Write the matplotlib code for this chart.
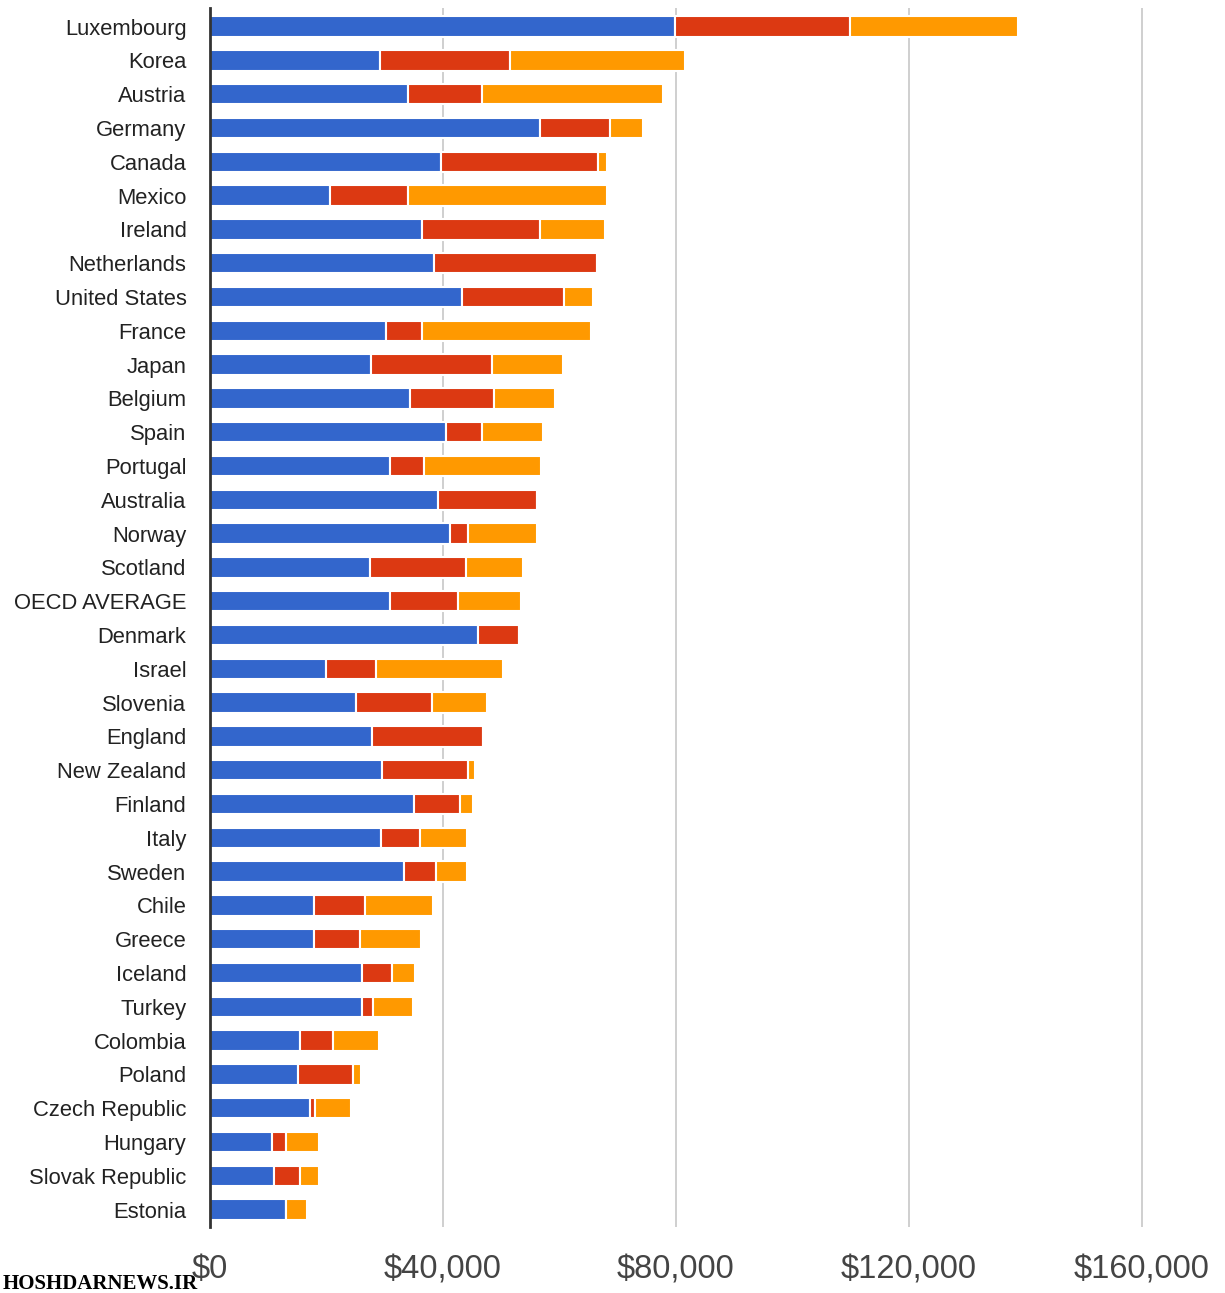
import matplotlib.pyplot as plt
import numpy as np

countries = ['Luxembourg', 'Korea', 'Austria', 'Germany', 'Canada', 'Mexico',
             'Ireland', 'Netherlands', 'United States', 'France', 'Japan',
             'Belgium', 'Spain', 'Portugal', 'Australia', 'Norway', 'Scotland',
             'OECD AVERAGE', 'Denmark', 'Israel', 'Slovenia', 'England',
             'New Zealand', 'Finland', 'Italy', 'Sweden', 'Chile', 'Greece',
             'Iceland', 'Turkey', 'Colombia', 'Poland', 'Czech Republic',
             'Hungary', 'Slovak Republic', 'Estonia']

# segment sizes in thousands of dollars
blue = [79.8, 29.2, 34.0, 56.7, 39.7, 20.6, 36.4, 38.5, 43.3, 30.2, 27.6,
        34.3, 40.5, 30.9, 39.1, 41.2, 27.5, 30.9, 46.0, 19.9, 25.1, 27.8,
        29.5, 35.0, 29.4, 33.3, 17.9, 17.9, 26.1, 26.1, 15.5, 15.1, 17.2,
        10.6, 11.0, 13.0]
red = [30.1, 22.3, 12.7, 12.0, 26.9, 13.4, 20.3, 27.9, 17.5, 6.2, 20.8,
       14.5, 6.2, 5.8, 17.0, 3.1, 16.4, 11.7, 7.0, 8.6, 13.0, 19.1,
       14.8, 7.9, 6.7, 5.5, 8.7, 7.9, 5.1, 1.9, 5.6, 9.4, 0.8,
       2.4, 4.5, 0.0]
orange = [28.8, 30.0, 31.1, 5.6, 1.6, 34.2, 11.1, 0.0, 5.0, 29.0, 12.2,
          10.4, 10.5, 20.1, 0.0, 11.8, 9.8, 10.8, 0.0, 21.8, 9.5, 0.0,
          1.2, 2.3, 8.0, 5.3, 11.7, 10.4, 4.0, 6.8, 7.9, 1.4, 6.2,
          5.7, 3.2, 3.7]

ticks = [0, 40000, 80000, 120000, 160000]
tick_labels = ['$0', '$40,000', '$80,000', '$120,000', '$160,000']

plt.rcParams['font.family'] = ['Liberation Sans', 'DejaVu Sans']

b = np.array(blue) * 1000
r = np.array(red) * 1000
o = np.array(orange) * 1000
y = np.arange(len(countries))

fig = plt.figure(figsize=(12.25, 12.93), dpi=100)
ax = fig.add_axes([210 / 1225, 1 - 1226.5 / 1293, 1 - 210 / 1225, 1218.5 / 1293])

h = 0.6
ax.barh(y, b, height=h, color='#3366cc', edgecolor='white', linewidth=1.5, zorder=3)
ax.barh(y, r, left=b, height=h, color='#dc3912', edgecolor='white', linewidth=1.5, zorder=3)
ax.barh(y, o, left=b + r, height=h, color='#ff9900', edgecolor='white', linewidth=1.5, zorder=3)

ax.set_xlim(0, 174250)
ax.set_ylim(35.5, -0.55)
ax.set_xticks(ticks)
ax.set_xticklabels(tick_labels, fontsize=23.5, color='#444444')
ax.set_yticks(y)
ax.set_yticklabels(countries, fontsize=15.8, color='#222222')
ax.tick_params(axis='x', length=0, pad=20)
ax.tick_params(axis='y', length=0, pad=17)
ax.grid(axis='x', color='#cccccc', linewidth=1.3, zorder=0)
for s in ['top', 'right', 'bottom']:
    ax.spines[s].set_visible(False)
ax.spines['left'].set_color('#333333')
ax.spines['left'].set_linewidth(2)
ax.spines['left'].set_zorder(4)

fig.text(0.002, 0.003, 'HOSHDARNEWS.IR', fontsize=15, fontweight='bold',
         family=['Liberation Serif', 'DejaVu Serif'], color='black')

fig.savefig('out.png', dpi=100)
